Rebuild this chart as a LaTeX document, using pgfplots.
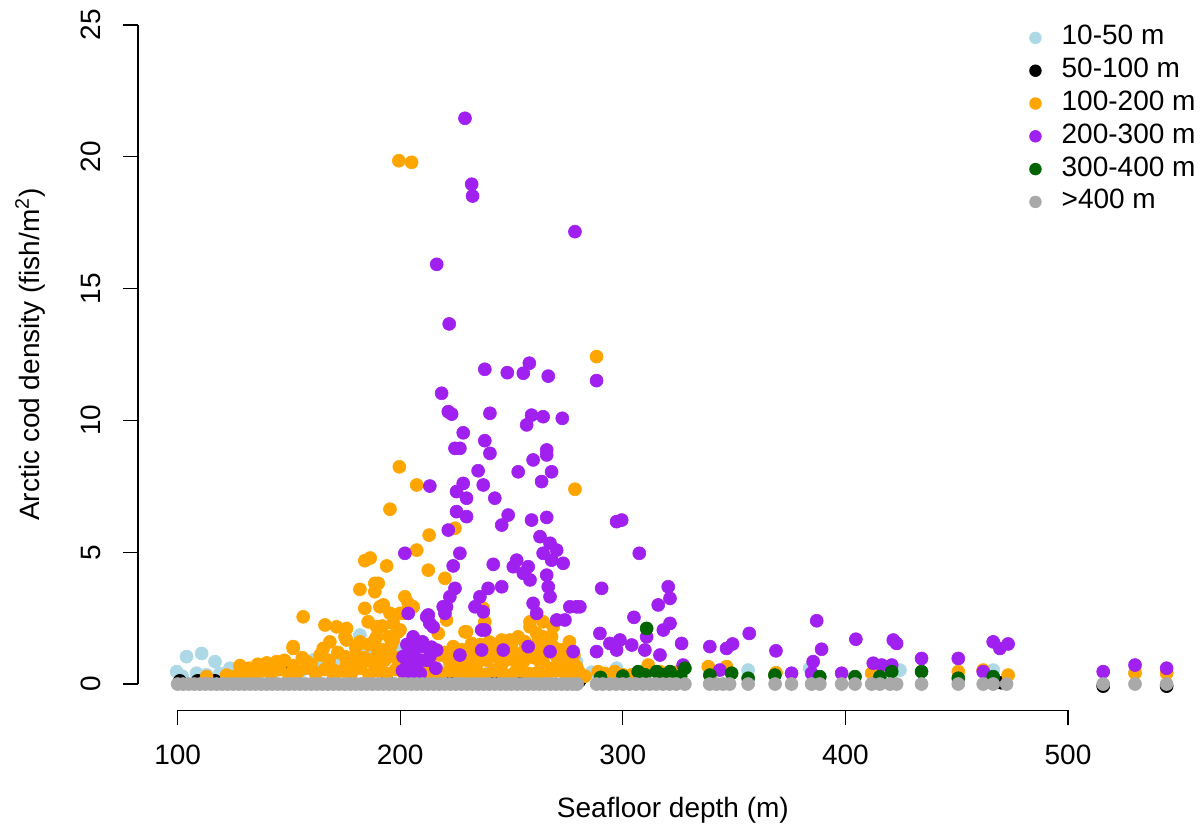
\documentclass[border=0pt]{standalone}
\usepackage{fontspec}
\setmainfont{Liberation Sans}
\usepackage{pgfplots}
\pgfplotsset{compat=1.18}

\definecolor{cLightBlue}{HTML}{ADD8E6}
\definecolor{cOrange}{HTML}{FFA500}
\definecolor{cPurple}{HTML}{A020F0}
\definecolor{cDarkGreen}{HTML}{006400}
\definecolor{cGray}{HTML}{A9A9A9}

\newcommand{\lbl}{\fontsize{14bp}{16bp}\selectfont}

\pgfplotsset{
  pts/.style={only marks, mark=*, mark size=3.25bp, color=#1,
    mark options={draw=#1, fill=#1, line width=0.3bp},
    legend image code/.code={\fill[#1] (0bp,0bp) circle (2.9bp);}},
}

\begin{document}
\begin{tikzpicture}
\begin{axis}[
  at={(0,0)}, anchor=south west,
  scale only axis, width=534.9bp, height=355.9bp,
  xmin=82.2, xmax=562.8, ymin=-1, ymax=26,
  axis line style={draw=none},
  clip=false,
  xtick={100,200,300,400,500}, ytick={0,5,10,15,20,25},
  xtick pos=bottom, ytick pos=left,
  tick align=outside, major tick length=7.5bp,
  tick style={black, line width=0.6bp},
  tick label style={font=\lbl},
  /pgf/number format/assume math mode=true,
  xticklabel style={yshift=-6.5bp},
  yticklabel style={xshift=-7.5bp, rotate=90, anchor=south},
  xlabel={Seafloor depth (m)},
  ylabel={Arctic cod density (fish/m\textsuperscript{2})},
  label style={font=\lbl},
  xlabel style={at={(axis description cs:0.5,-0.1400)}, anchor=center},
  ylabel style={at={(axis description cs:-0.1009,0.5)}, anchor=center, rotate=0},
  legend style={draw=none, fill=none, font=\lbl, inner sep=0pt, outer sep=0pt,
    at={(axis description cs:0.8331,0.9636)}, anchor=north west,
    nodes={inner sep=0pt, text height=10.2bp, text depth=3.2bp, anchor=west},
    row sep=3bp, /tikz/every odd column/.append style={column sep=10bp}},
  legend cell align=left,
]
% 10-50 m
\addplot[pts=cLightBlue] coordinates {
(99.6,0.47)(104,1.04)(108.5,0.41)(110.8,1.16)(116.8,0.85)(123.5,0.6)(102,0.3)(113,0.35)
(119,0.4)(126,0.35)(144.5,0.53)(149,0.53)(160.9,0.91)(162.4,0.79)(169.9,0.85)(172.9,0.91)
(181.9,1.86)(184.9,1.35)(187.9,1.16)(189.4,1.23)(196.9,1.16)(199.9,1.29)(211.9,0.53)(230,0.5)
(252.3,0.34)(276.2,1.10)(279.2,0.85)(268,0.5)(240,0.45)(297.2,0.6)(286,0.45)(356.3,0.53)
(384,0.6)(424.5,0.53)(466.4,0.53)(530.1,0.45)(544.3,0.45)(155,0.45)(135,0.4)(178,1.0)
(192,0.9)(220,0.5)
};
\addlegendentry{10-50 m}
% 50-100 m
\addplot[pts=black] coordinates {
(101,0.12)(109,0.12)(116.8,0.12)(151.2,0.55)(193.9,0.12)(223.5,0.12)(242.5,0.12)(254.5,0.12)
(261.3,0.12)(280.5,0.12)(515.8,-0.08)(544.3,-0.08)(300,0.1)(470,0.05)
};
\addlegendentry{50-100 m}
% 100-200 m
\addplot[pts=cOrange] coordinates {
(199.4,19.85)(205.1,19.79)(288.2,12.42)(199.6,8.24)(207.4,7.55)(278.5,7.39)(195.4,6.63)(224.6,5.91)
(213,5.65)(207.4,5.08)(184.1,4.68)(193.9,4.48)(212.6,4.32)(220.1,4.01)(188.6,3.82)(190.1,3.82)
(181.9,3.59)(188.6,3.5)(202.1,3.31)(203.6,3.06)(192.4,3.0)(184.1,2.87)(237.3,2.87)(205.8,2.93)
(190.9,2.93)(195.4,2.68)(199.9,2.68)(201.3,2.68)(156.4,2.55)(185.6,2.36)(220.8,2.43)(238,2.36)
(258.3,2.36)(264.2,2.36)(166.2,2.24)(171.4,2.17)(175.9,2.11)(189.4,2.17)(190.9,2.17)(196.9,2.30)
(268.7,2.17)(258.3,2.17)(199.1,1.98)(199.9,2.05)(217.1,1.92)(229.8,1.98)(229.1,1.98)(261.3,1.92)
(186.5,4.78)
(175.2,1.79)(189.4,1.79)(253,1.79)(264.2,1.79)(168.4,1.60)(181.9,1.60)(188.6,1.67)(196.9,1.67)
(245.6,1.67)(249.3,1.67)(175.9,1.67)(232.1,1.54)(181.9,1.54)(151.9,1.42)(165.4,1.35)(223.8,1.42)
(241.8,1.42)(268.7,1.42)(224.6,1.35)(151.9,1.35)(231.3,1.04)(220.8,1.04)(175.2,1.04)(249.3,1.04)
(270.3,1.04)(238.8,0.91)(250.8,0.91)(271.8,0.97)(186.4,0.91)(144.5,0.85)(158,0.85)(255.3,0.85)
(264.2,0.85)(262.8,0.85)(274.8,0.79)(178.9,0.66)(223.8,0.66)(279.2,0.66)(140,0.6)(122,0.34)
(113,0.28)(131,0.53)(135.5,0.53)(153.4,0.53)(169.9,0.53)(216.4,0.53)(228.3,0.53)(234.3,0.53)
(241.8,0.53)(252.3,0.53)
(180,1.1)(183,0.8)(186,1.5)(190,1.2)(193,0.9)(196,1.5)(198,1.0)(192,2.2)(195,1.8)(250,1.5)
(255,1.2)(260,1.0)(262,1.6)(266,1.4)(268,0.6)(272,1.3)(276,1.6)(278,1.1)(258,0.4)(264,0.3)
(246,0.8)(242,1.2)(236,1.5)(232,0.8)(228,1.0)(222,0.9)(218,1.1)(214,0.7)
(126,0.3)(130,0.45)(134,0.35)(138,0.5)(142,0.4)(146,0.55)(150,0.35)(154,0.45)(158,0.6)(162,0.4)
(166,0.55)(170,0.35)(174,0.5)(178,0.4)(182,0.6)(186,0.35)(190,0.5)(194,0.4)(198,0.55)(202,0.35)
(206,0.5)(210,0.4)(214,0.45)(218,0.35)(222,0.5)(226,0.4)(230,0.3)(234,0.45)(238,0.35)(242,0.5)
(246,0.4)(250,0.35)(254,0.5)(258,0.3)(262,0.45)(266,0.35)(270,0.5)(274,0.4)(278,0.35)
(128,0.7)(132,0.6)(136,0.75)(140,0.8)(144,0.65)(148,0.9)(152,0.7)(156,1.0)(160,0.75)(164,1.1)
(168,0.9)(172,1.2)(176,0.8)(180,1.4)(184,1.0)(188,0.8)(192,1.3)(196,1.1)(200,0.8)(204,1.0)
(208,0.7)(220,1.2)(224,0.8)(228,1.3)(232,1.1)(236,0.9)(240,1.6)(244,1.0)(248,1.3)(252,1.1)
(256,1.6)(260,1.3)(264,1.1)(268,1.8)(272,0.8)(276,1.2)(280,0.5)
(288.9,0.47)(296.4,0.47)(292,0.4)(300,0.35)(311.4,0.72)(316.7,0.47)(304,0.35)(320,0.4)(324,0.45)
(338.4,0.66)(346.6,0.66)(368.8,0.43)(411.8,0.41)(450.7,0.47)(461.9,0.53)(473.1,0.34)(530.1,0.41)
(544.3,0.41)(283,0.3)
};
\addlegendentry{100-200 m}
% 200-300 m
\addplot[pts=cPurple] coordinates {
(229.1,21.46)(232.1,18.96)(232.5,18.51)(278.5,17.16)(216.4,15.92)(222,13.66)(238,11.94)(248.1,11.81)
(255.3,11.79)(258,12.17)(266.5,11.68)(288.2,11.51)(218.6,11.03)(221.6,10.33)(223.1,10.24)(240.3,10.27)
(256.8,9.83)(259,10.2)(264.2,10.14)(272.8,10.08)(228.3,9.53)(238,9.23)(224.6,8.94)(226.8,8.94)
(265.8,8.88)(240.3,8.75)(259.7,8.5)(265.8,8.69)(235,8.09)(253,8.05)(268,8.05)(263.5,7.68)
(228.3,7.61)(213.3,7.51)(237.3,7.55)(225.3,7.30)(229.8,7.05)(242.5,7.05)(225.3,6.54)(229.8,6.35)
(248.5,6.41)(245.6,6.03)(259,6.22)(265.8,6.32)(297.2,6.16)(299.5,6.22)(221.6,5.84)(262.8,5.59)
(267.3,5.34)(202.1,4.96)(226.8,4.96)(307.4,4.96)(264.2,4.96)(270.3,5.08)(223.8,4.48)(241.8,4.54)
(252.3,4.7)(250.8,4.45)(257.5,4.45)(255.3,4.2)(258.3,3.95)(273.2,4.58)(268,4.70)(265.8,4.13)
(266.5,3.69)(267.3,3.31)
(224.6,3.63)(222.3,3.31)(220.8,2.93)(220.1,2.68)(239.5,3.63)(235.8,3.31)(233.6,2.93)(237.3,2.74)
(245.6,3.69)(259.7,3.06)(261.3,2.68)(276.2,2.93)(279.2,2.93)(274,2.43)(270.3,2.43)(280.7,2.93)
(203.6,2.68)(212.6,2.62)(213.3,2.30)(238,2.05)(290.5,3.63)(320.4,3.69)(321.2,3.25)(315.9,3.0)
(305,2.53)(219.3,2.93)(211.9,2.55)(214.8,2.17)
(205.8,1.67)(210.3,1.42)(201.3,1.04)(202.9,0.66)(208.9,0.91)(213.3,1.04)(216.4,1.29)(226.8,1.10)
(236.6,1.29)(246.3,1.29)(257.5,1.42)(267.3,1.23)(277.7,1.23)(204.3,0.41)(207.3,1.54)(202.9,0.91)
(205.8,1.79)(236.6,2.05)(289.7,1.92)(288.2,1.23)(294.2,1.54)(298.7,1.67)(304,1.48)(297.2,1.29)
(310.7,1.79)(309.9,1.29)(316.7,1.10)(321.2,2.30)(318.2,2.05)(326.4,1.54)(339.1,1.42)(346.6,1.35)
(349.3,1.52)(356.8,1.92)(368.8,1.26)(375.8,0.41)(327.1,0.72)(343.6,0.53)
(203,1.5)(206,1.2)(208,0.8)(210,1.6)(212,0.9)(201,0.5)(205,0.3)(214,1.4)(209,0.4)(216,0.6)
(387.1,2.40)(389.3,1.32)(385.5,0.85)(384.8,0.41)(398.3,0.41)(404.7,1.70)(412.5,0.79)(416.3,0.72)
(421.5,1.67)(423,1.54)(420.8,0.72)(434.2,0.97)(450.7,0.97)(461.9,0.47)(466.4,1.60)(473.1,1.52)
(469.4,1.35)(515.8,0.47)(530.1,0.72)(544.3,0.60)
};
\addlegendentry{200-300 m}
% 300-400 m
\addplot[pts=cDarkGreen] coordinates {
(310.7,2.11)(306.9,0.47)(315.2,0.47)(321.2,0.47)(327.9,0.6)(326,0.3)(290,0.25)(300,0.3)
(318,0.35)(339.1,0.34)(348.9,0.41)(356.3,0.22)(368.3,0.34)(388.5,0.28)(404.3,0.28)(415.5,0.28)
(420.8,0.47)(434.2,0.47)(450.7,0.22)(466.4,0.28)(310,0.35)
};
\addlegendentry{300-400 m}
% >400 m
\addplot[pts=cGray] coordinates {
(100,0)(102.5,0)(105,0)(107.5,0)(110,0)(112.5,0)(115,0)(117.5,0)(120,0)(122.5,0)(125,0)
(127.5,0)(130,0)(132.5,0)(135,0)(137.5,0)(140,0)(142.5,0)(145,0)(147.5,0)(150,0)(152.5,0)
(155,0)(157.5,0)(160,0)(162.5,0)(165,0)(167.5,0)(170,0)(172.5,0)(175,0)(177.5,0)(180,0)
(182.5,0)(185,0)(187.5,0)(190,0)(192.5,0)(195,0)(197.5,0)(200,0)(202.5,0)(205,0)(207.5,0)
(210,0)(212.5,0)(215,0)(217.5,0)(220,0)(222.5,0)(225,0)(227.5,0)(230,0)(232.5,0)(235,0)
(237.5,0)(240,0)(242.5,0)(245,0)(247.5,0)(250,0)(252.5,0)(255,0)(257.5,0)(260,0)(262.5,0)
(265,0)(267.5,0)(270,0)(272.5,0)(275,0)(277.5,0)(279.5,0)
(288.2,0)(291,0)(294,0)(297,0)(300,0)(303,0)(306,0)(309,0)(312,0)(315,0)(318,0)(321,0)
(324,0)(327.9,0)(339,0)(342,0)(345,0)(348,0)(356.3,0)(368.4,0)(375.8,0)(384.8,0)(388.5,0)
(398.3,0)(404.3,0)(411.8,0)(415.5,0)(420,0)(423,0)(434.2,0)(450.7,0)(461.9,0)(466.4,0)
(472.4,0)(515.8,0)(530.1,0)(544.3,0)
};
\addlegendentry{>400 m}
% axis lines spanning the first to the last tick
\draw[line width=0.6bp] (axis cs:100,-1) -- (axis cs:500,-1);
\draw[line width=0.6bp] (axis cs:82.2,0) -- (axis cs:82.2,25);
\end{axis}
\pgfresetboundingbox
\useasboundingbox (-69bp,-62.3bp) rectangle (531.5bp,355.2bp);
\end{tikzpicture}
\end{document}
